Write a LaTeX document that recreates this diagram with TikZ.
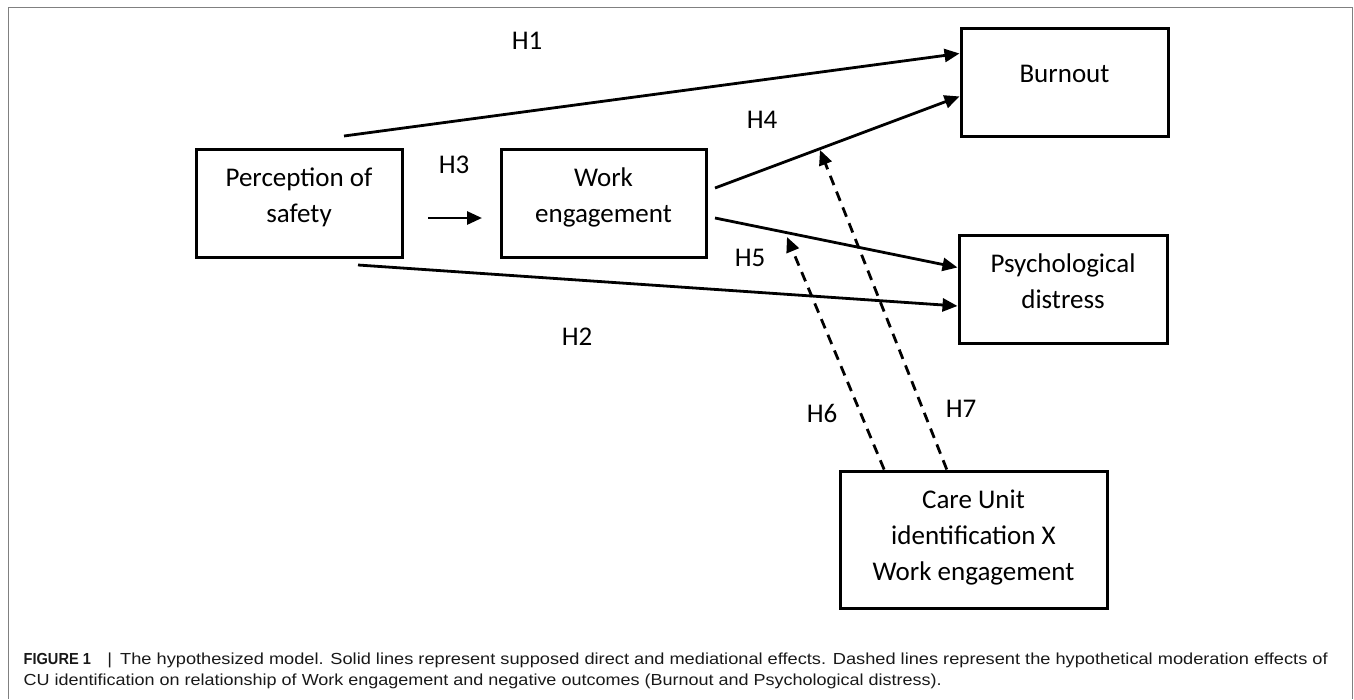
\documentclass[tikz,border=0pt]{standalone}
\usepackage{fontspec}
\setmainfont{Carlito}
\newfontfamily\captionfont{Liberation Sans}
\usetikzlibrary{arrows.meta,calc}

% box content: width, height, first baseline, text
\newcommand{\boxtext}[4]{\parbox[c][#2][t]{#1}{\centering\rule{0pt}{#3}#4}}

\tikzset{
  box/.style={draw, line width=3pt, inner sep=0pt, font=\fontsize{27}{36}\selectfont},
  hyp/.style={inner sep=0pt, font=\fontsize{27}{30}\selectfont},
  link/.style={line width=2.8pt, -{Triangle[length=15pt,width=13pt]}},
  moderation/.style={link, dash pattern=on 10pt off 7pt},
  captext/.style={inner sep=0pt, anchor=base west, text=black!90,
    font=\captionfont\fontsize{16}{20}\selectfont},
  frame/.style={draw=black!50, line width=1pt}
}

\begin{document}
\begin{tikzpicture}[x=1pt,y=-1pt]
  \useasboundingbox (0,0) rectangle (1354,699);
  \draw[frame] (8,699) -- (8,7) -- (1352.5,7) -- (1352.5,699);

  % boxes
  \node[box] (safety) at (299,203) {\boxtext{206pt}{108pt}{37pt}{Perception of\\safety}};
  \node[box] (engagement) at (603.5,203) {\boxtext{205pt}{108pt}{37pt}{Work\\engagement}};
  \node[box] (burnout) at (1064.5,82) {\boxtext{207pt}{108pt}{54pt}{Burnout}};
  \node[box] (distress) at (1063,289) {\boxtext{208pt}{108pt}{37pt}{Psychological\\distress}};
  \node[box] (careunit) at (973.5,539.5) {\boxtext{267pt}{137pt}{37pt}{Care Unit\\identification X\\Work engagement}};

  % free ends
  \coordinate (h1start) at (344,136);
  \coordinate (h2start) at (358,265);
  \coordinate (h3start) at (428,218);
  \coordinate (h3end) at (482,218);
  \coordinate (h4start) at (715,188);
  \coordinate (h5start) at (715,218);
  \coordinate (h6end) at (787,237);
  \coordinate (h7end) at (820,150);

  % direct and mediational effects
  \draw[link] (h1start) -- ($(burnout.north west)!0.243!(burnout.south west)$);
  \draw[link] (h2start) -- ($(distress.north west)!0.653!(distress.south west)$);
  \draw[link] (h3start) -- (h3end);
  \draw[link] (h4start) -- ($(burnout.north west)!0.63!(burnout.south west)$);
  \draw[link] (h5start) -- ($(distress.north west)!0.306!(distress.south west)$);

  % moderation effects
  \draw[moderation] ($(careunit.north west)!0.169!(careunit.north east)$) -- (h6end);
  \draw[moderation] ($(careunit.north west)!0.401!(careunit.north east)$) -- (h7end);

  % hypotheses
  \node[hyp] (h1) at (527,41) {H1};
  \node[hyp] (h2) at (577,337) {H2};
  \node[hyp] (h3) at (454,165) {H3};
  \node[hyp] (h4) at (762,120) {H4};
  \node[hyp] (h5) at (750,258) {H5};
  \node[hyp] (h6) at (822,413) {H6};
  \node[hyp] (h7) at (961,409) {H7};

  % caption
  \node[captext] (caption1) at (23.5,664) {\resizebox{1304pt}{\height}{\scalebox{0.8}[1]{\textbf{FIGURE 1}}\hspace{0.9em}|\hspace{0.45em}The hypothesized model. Solid lines represent supposed direct and mediational effects. Dashed lines represent the hypothetical moderation effects of}};
  \node[captext] (caption2) at (23.5,685) {\resizebox{918pt}{\height}{CU identification on relationship of Work engagement and negative outcomes (Burnout and Psychological distress).}};
\end{tikzpicture}
\end{document}
